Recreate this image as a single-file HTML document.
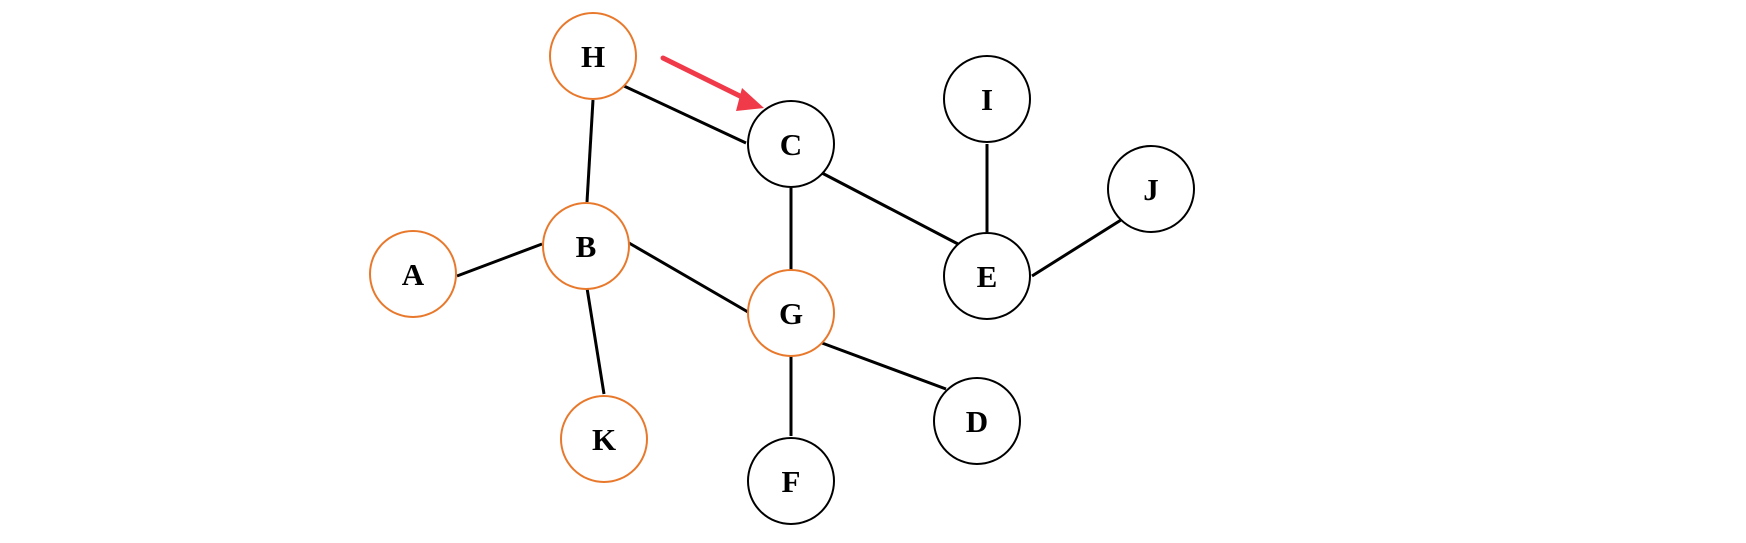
<!DOCTYPE html>
<html><head><style>body{margin:0;background:#fff}</style></head><body>
<svg width="1746" height="538" xmlns="http://www.w3.org/2000/svg">
<g stroke="#000" stroke-width="3">
<line x1="624" y1="86" x2="746" y2="143"/>
<line x1="593" y1="100" x2="587" y2="202"/>
<line x1="457" y1="276" x2="542" y2="244"/>
<line x1="587" y1="288" x2="604" y2="394"/>
<line x1="629" y1="243" x2="748" y2="312"/>
<line x1="791" y1="188" x2="791" y2="270"/>
<line x1="822" y1="173" x2="958" y2="244"/>
<line x1="987" y1="144" x2="987" y2="232"/>
<line x1="1032" y1="276" x2="1121" y2="220"/>
<line x1="822" y1="343" x2="946" y2="389"/>
<line x1="791" y1="356" x2="791" y2="436"/>
</g>
<g stroke-width="2" fill="#fff" font-family="Liberation Serif, serif" font-size="31" font-weight="bold" text-anchor="middle">
<g stroke="#e8792c">
<circle cx="593" cy="56" r="43"/><circle cx="586" cy="246" r="43"/><circle cx="413" cy="274" r="43"/><circle cx="604" cy="439" r="43"/><circle cx="791" cy="313" r="43"/>
</g>
<g stroke="#000">
<circle cx="791" cy="144" r="43"/><circle cx="987" cy="99" r="43"/><circle cx="1151" cy="189" r="43"/><circle cx="987" cy="276" r="43"/><circle cx="977" cy="421" r="43"/><circle cx="791" cy="481" r="43"/>
</g>
<g fill="#000" stroke="none">
<text x="593" y="67">H</text><text x="586" y="257">B</text><text x="413" y="285">A</text><text x="604" y="450">K</text><text x="791" y="324">G</text>
<text x="791" y="155">C</text><text x="987" y="110">I</text><text x="1151" y="200">J</text><text x="987" y="287">E</text><text x="977" y="432">D</text><text x="791" y="492">F</text>
</g>
</g>
<line x1="663" y1="58" x2="748" y2="100" stroke="#f03a4a" stroke-width="5" stroke-linecap="round"/>
<polygon points="764,108 742,88 736,111" fill="#f03a4a"/>
</svg>
</body></html>
